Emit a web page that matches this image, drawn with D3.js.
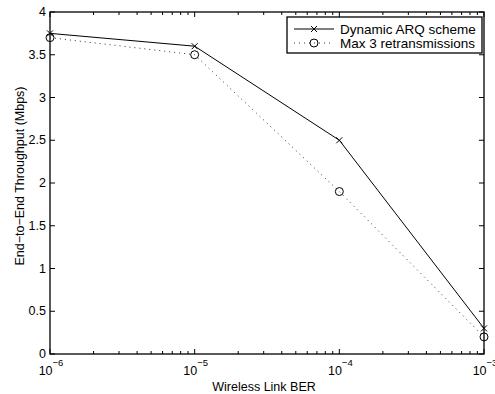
<!DOCTYPE html>
<html>
<head>
<meta charset="utf-8">
<script src="https://cdn.jsdelivr.net/npm/d3@7"></script>
<style>
  body { margin: 0; background: #fff; }
  text { font-family: "Liberation Sans", Arial, sans-serif; }
</style>
</head>
<body>
<div id="chart"></div>
<script>
// data
const ber = [1e-6, 1e-5, 1e-4, 1e-3];
const dynamicArq = [3.75, 3.6, 2.5, 0.3];
const max3Retx = [3.7, 3.5, 1.9, 0.2];
const yTicks = [0, 0.5, 1, 1.5, 2, 2.5, 3, 3.5, 4];
const xExponents = [-6, -5, -4, -3];

const width = 495, height = 394;
const margin = { left: 50, right: 11, top: 12, bottom: 40 };

const svg = d3.select('#chart').append('svg')
  .attr('width', width)
  .attr('height', height);

const x = d3.scaleLog().domain([1e-6, 1e-3]).range([margin.left, width - margin.right]);
const y = d3.scaleLinear().domain([0, 4]).range([height - margin.bottom, margin.top]);

const x0 = x.range()[0], x1 = x.range()[1];
const y0 = y.range()[0], y1 = y.range()[1];

const g = svg.append('g');

// minor + major ticks on x (top and bottom, inward)
const minor = [];
for (let e = -6; e < -3; e++) {
  for (let k = 2; k <= 9; k++) minor.push(k * Math.pow(10, e));
}
const tickLen = 5;
minor.forEach(v => {
  g.append('line').attr('x1', x(v)).attr('x2', x(v)).attr('y1', y0).attr('y2', y0 - 3).attr('stroke', '#000');
  g.append('line').attr('x1', x(v)).attr('x2', x(v)).attr('y1', y1).attr('y2', y1 + 3).attr('stroke', '#000');
});
ber.forEach(v => {
  g.append('line').attr('x1', x(v)).attr('x2', x(v)).attr('y1', y0).attr('y2', y0 - tickLen).attr('stroke', '#000');
  g.append('line').attr('x1', x(v)).attr('x2', x(v)).attr('y1', y1).attr('y2', y1 + tickLen).attr('stroke', '#000');
});
yTicks.forEach(v => {
  g.append('line').attr('x1', x0).attr('x2', x0 + tickLen).attr('y1', y(v)).attr('y2', y(v)).attr('stroke', '#000');
  g.append('line').attr('x1', x1).attr('x2', x1 - tickLen).attr('y1', y(v)).attr('y2', y(v)).attr('stroke', '#000');
});

// axes box
g.append('rect')
  .attr('x', x0).attr('y', y1)
  .attr('width', x1 - x0).attr('height', y0 - y1)
  .attr('fill', 'none').attr('stroke', '#000').attr('stroke-width', 1.3);

// y tick labels
yTicks.forEach(v => {
  g.append('text')
    .attr('x', x0 - 4).attr('y', y(v) + 4)
    .attr('text-anchor', 'end')
    .attr('font-size', 12.5)
    .text(d3.format('~g')(v));
});

// x tick labels 10^e
xExponents.forEach((e, i) => {
  const t = g.append('text')
    .attr('x', x(ber[i]) + 1).attr('y', y0 + 21)
    .attr('text-anchor', 'middle')
    .attr('font-size', 12.5);
  t.append('tspan').text('10');
  t.append('tspan').attr('dy', -9).attr('font-size', 9.5).text('\u2212' + Math.abs(e));
});

// axis labels
svg.append('text')
  .attr('x', 264).attr('y', 391)
  .attr('text-anchor', 'middle')
  .attr('font-size', 12.5)
  .text('Wireless Link BER');

svg.append('text')
  .attr('transform', 'translate(24,176) rotate(-90)')
  .attr('text-anchor', 'middle')
  .attr('font-size', 12.5)
  .text('End\u2212to\u2212End Throughput (Mbps)');

// series
const line = d3.line().x(d => x(d[0])).y(d => y(d[1]));
const dynPts = ber.map((b, i) => [b, dynamicArq[i]]);
const maxPts = ber.map((b, i) => [b, max3Retx[i]]);

g.append('path').datum(maxPts).attr('d', line)
  .attr('fill', 'none').attr('stroke', '#333').attr('stroke-width', 1)
  .attr('stroke-dasharray', '1,4');
g.append('path').datum(dynPts).attr('d', line)
  .attr('fill', 'none').attr('stroke', '#000').attr('stroke-width', 1);

function cross(sel, cx, cy, s) {
  sel.append('path')
    .attr('d', `M${cx - s},${cy - s}L${cx + s},${cy + s}M${cx - s},${cy + s}L${cx + s},${cy - s}`)
    .attr('stroke', '#000').attr('stroke-width', 1).attr('fill', 'none');
}
function circ(sel, cx, cy, r) {
  sel.append('circle').attr('cx', cx).attr('cy', cy).attr('r', r)
    .attr('fill', 'none').attr('stroke', '#000').attr('stroke-width', 1);
}

dynPts.forEach(d => cross(g, x(d[0]), y(d[1]), 3));
maxPts.forEach(d => circ(g, x(d[0]), y(d[1]), 4));

// legend
const lg = svg.append('g');
lg.append('rect')
  .attr('x', 287).attr('y', 17).attr('width', 195).attr('height', 36)
  .attr('fill', '#fff').attr('stroke', '#000').attr('stroke-width', 1.3);
lg.append('line').attr('x1', 294).attr('x2', 334).attr('y1', 29).attr('y2', 29).attr('stroke', '#000');
cross(lg, 314, 29, 3);
lg.append('line').attr('x1', 294).attr('x2', 334).attr('y1', 43).attr('y2', 43)
  .attr('stroke', '#333').attr('stroke-dasharray', '1,4');
circ(lg, 314, 43, 4);
lg.append('text').attr('x', 340).attr('y', 34).attr('font-size', 13.5).text('Dynamic ARQ scheme');
lg.append('text').attr('x', 340).attr('y', 48).attr('font-size', 13.5).text('Max 3 retransmissions');
</script>
</body>
</html>
